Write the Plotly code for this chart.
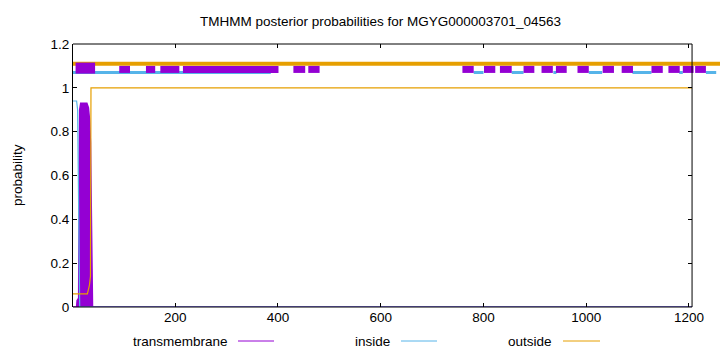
import plotly.graph_objects as go

# ---------------- data ----------------
TITLE = "TMHMM posterior probabilities for MGYG000003701_04563"
seq_len = 1206          # last residue (right border of the frame)
x_view_end = 1260.4     # drawing area continues to the right edge (top bars overflow)

tm_pos = [1, 8, 9, 12, 13, 14, 16, 28, 31, 33, 35, 37, 38, 39, 1206]
tm_prob = [0, 0, 0.03, 0.04, 0.6, 0.9, 0.93, 0.93, 0.91, 0.86, 0.75, 0.4, 0.05, 0, 0]

in_pos = [1, 8, 10, 11, 13, 14, 1206]
in_prob = [0.94, 0.94, 0.9, 0.66, 0.02, 0, 0]

out_pos = [1, 29, 33, 35, 36, 1206]
out_prob = [0.06, 0.06, 0.1, 0.14, 1.0, 1.0]

# topology bars drawn above the curves (start, end residue)
top_outside = [(1, 1300)]
top_inside = [(1, 386), (781, 800), (855, 878), (936, 942), (1005, 1031),
              (1090, 1127), (1181, 1188), (1233, 1253)]
top_tm_first = [(6, 44)]
top_tm = [(91, 112), (143, 161), (171, 208), (215, 401), (430, 453), (459, 481),
          (759, 781), (801, 823), (832, 855), (878, 899), (913, 935), (941, 962),
          (983, 1005), (1032, 1054), (1069, 1091), (1127, 1149), (1160, 1182),
          (1188, 1209), (1212, 1233)]

y_outside_bar, y_inside_bar, y_tm_bar, y_tm_first = 1.11, 1.07, 1.084, 1.09

x_ticks = [200, 400, 600, 800, 1000, 1200]
y_ticks = [0, 0.2, 0.4, 0.6, 0.8, 1.0, 1.2]
y_tick_text = ["0", "0.2", "0.4", "0.6", "0.8", "1", "1.2"]
legend_names = ["transmembrane", "inside", "outside"]

# ---------------- style ----------------
C_TM, C_IN, C_OUT = "#9400D3", "#56B4E9", "#E69F00"
FONT = "Liberation Sans, Arial, sans-serif"
W, H = 720, 352
ML, MR, MT, MB = 73, 0, 44, 45
PW, PH = W - ML - MR, H - MT - MB


def segs(pairs, yv):
    xs, ys = [], []
    for a, b in pairs:
        xs += [a, b, None]
        ys += [yv, yv, None]
    return xs, ys


fig = go.Figure()

fig.add_trace(go.Scatter(x=tm_pos, y=tm_prob, mode="lines", fill="tozeroy",
                         fillcolor=C_TM, line=dict(color=C_TM, width=1.5),
                         showlegend=False, hoverinfo="skip"))
fig.add_trace(go.Scatter(x=in_pos, y=in_prob, mode="lines",
                         line=dict(color=C_IN, width=1.2), showlegend=False))
fig.add_trace(go.Scatter(x=out_pos, y=out_prob, mode="lines",
                         line=dict(color=C_OUT, width=1.2), showlegend=False))

xo, yo = segs(top_outside, y_outside_bar)
fig.add_trace(go.Scatter(x=xo, y=yo, mode="lines", line=dict(color=C_OUT, width=4),
                         showlegend=False))
xi, yi = segs(top_inside, y_inside_bar)
fig.add_trace(go.Scatter(x=xi, y=yi, mode="lines", line=dict(color=C_IN, width=3),
                         showlegend=False))
xt, yt = segs(top_tm, y_tm_bar)
fig.add_trace(go.Scatter(x=xt, y=yt, mode="lines", line=dict(color=C_TM, width=7),
                         showlegend=False, yaxis="y2"))
xf, yf = segs(top_tm_first, y_tm_first)
fig.add_trace(go.Scatter(x=xf, y=yf, mode="lines", line=dict(color=C_TM, width=11),
                         showlegend=False, yaxis="y2"))

x0 = 1
px_per_unit = PW / (x_view_end - x0)


def xpaper(v):
    return (v - x0) / (x_view_end - x0)


def ypaper_px(py):
    return (H - MB - py) / PH


right = xpaper(seq_len)

# frame (bottom, top, right); left comes from the y axis line
shapes = [
    dict(type="line", xref="paper", yref="paper", x0=0, x1=right, y0=0, y1=0,
         line=dict(color="#000", width=1)),
    dict(type="line", xref="paper", yref="paper", x0=0, x1=right, y0=1, y1=1,
         line=dict(color="#000", width=1)),
    dict(type="line", xref="paper", yref="paper", x0=right, x1=right, y0=0, y1=1,
         line=dict(color="#000", width=1)),
]

annotations = [
    dict(text=TITLE, xref="paper", yref="paper", x=xpaper((x0 + seq_len) / 2) - 2 / PW,
         y=ypaper_px(21), xanchor="center", yanchor="middle", showarrow=False,
         font=dict(family=FONT, size=13.5, color="#000")),
    dict(text="probability", xref="paper", yref="paper", x=0, xshift=17.5 - ML,
         y=0.5, xanchor="center", yanchor="middle", textangle=-90, showarrow=False,
         font=dict(family=FONT, size=13.5, color="#000")),
]

# legend: text right-aligned, then a line sample
leg_text_right = [229.5, 391.5, 554]
leg_line = [(238, 274), (401, 437), (563, 600)]
leg_colors = [C_TM, C_IN, C_OUT]
leg_y = ypaper_px(341)
for name, tr, (l0, l1), col in zip(legend_names, leg_text_right, leg_line, leg_colors):
    annotations.append(dict(text=name, xref="paper", yref="paper",
                            x=(tr - ML) / PW, y=leg_y, xanchor="right", yanchor="middle",
                            showarrow=False, font=dict(family=FONT, size=13.5, color="#000")))
    shapes.append(dict(type="line", xref="paper", yref="paper", x0=(l0 - ML) / PW,
                       x1=(l1 - ML) / PW, y0=leg_y, y1=leg_y, line=dict(color=col, width=1)))

fig.update_layout(
    width=W, height=H, margin=dict(l=ML, r=MR, t=MT, b=MB),
    paper_bgcolor="white", plot_bgcolor="white",
    font=dict(family=FONT, size=13.5, color="#000"),
    showlegend=False,
    shapes=shapes, annotations=annotations,
    xaxis=dict(range=[x0, x_view_end], tickvals=x_ticks, ticks="inside", ticklen=4,
               tickcolor="#000", mirror="ticks", showline=False, showgrid=False,
               zeroline=False, tickfont=dict(size=13.5)),
    yaxis=dict(range=[0, 1.2], tickvals=y_ticks, ticktext=y_tick_text, ticks="inside",
               ticklen=4, tickcolor="#000", showline=True, linecolor="#000",
               linewidth=1, showgrid=False, zeroline=False, tickfont=dict(size=13.5)),
    yaxis2=dict(range=[0, 1.2], tickvals=y_ticks, overlaying="y", anchor="free",
                position=right, side="right", ticks="inside", ticklen=4,
                tickcolor="#000", showticklabels=False, showline=False,
                showgrid=False, zeroline=False),
)

fig.write_html("out.html")
